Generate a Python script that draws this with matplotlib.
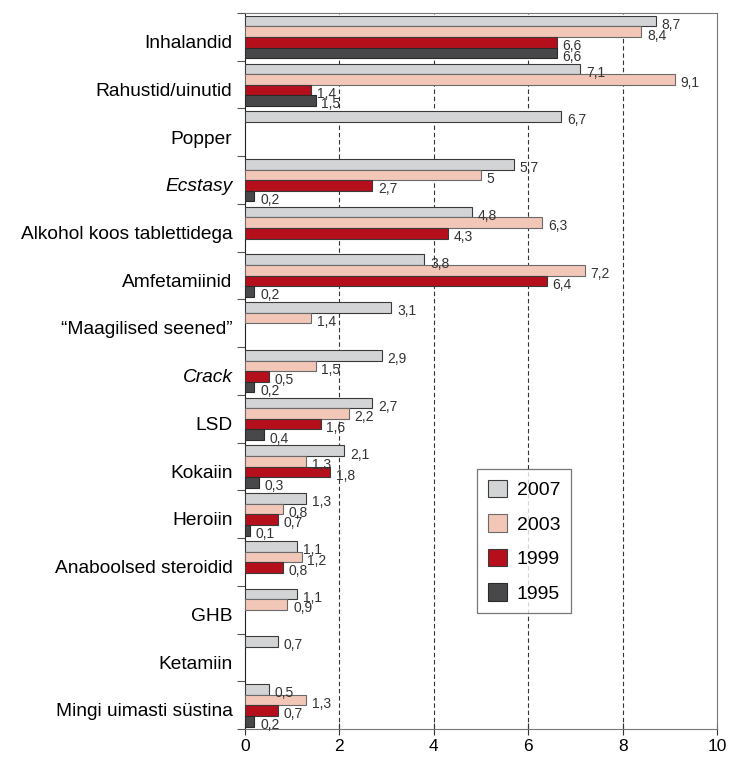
import numpy as np
import matplotlib.pyplot as plt

plt.rcParams['font.family'] = ['Liberation Sans', 'DejaVu Sans']

categories = ["Inhalandid", "Rahustid/uinutid", "Popper", "Ecstasy",
              "Alkohol koos tablettidega", "Amfetamiinid", "\u201cMaagilised seened\u201d",
              "Crack", "LSD", "Kokaiin", "Heroiin", "Anaboolsed steroidid",
              "GHB", "Ketamiin", "Mingi uimasti süstina"]
italic_cats = {"Ecstasy", "Crack"}

years = ["2007", "2003", "1999", "1995"]
v2007 = [8.7, 7.1, 6.7, 5.7, 4.8, 3.8, 3.1, 2.9, 2.7, 2.1, 1.3, 1.1, 1.1, 0.7, 0.5]
v2003 = [8.4, 9.1, None, 5.0, 6.3, 7.2, 1.4, 1.5, 2.2, 1.3, 0.8, 1.2, 0.9, None, 1.3]
v1999 = [6.6, 1.4, None, 2.7, 4.3, 6.4, None, 0.5, 1.6, 1.8, 0.7, 0.8, None, None, 0.7]
v1995 = [6.6, 1.5, None, 0.2, None, 0.2, None, 0.2, 0.4, 0.3, 0.1, None, None, None, 0.2]
series = [v2007, v2003, v1999, v1995]

colors = ["#d3d4d6", "#f2c7b8", "#b50f1c", "#48484a"]
edges = ["#3a3a3a", "#6a6a6a", "#3a3a3a", "#2a2a2a"]

fig = plt.figure(figsize=(7.3, 7.6), dpi=100)
ax = fig.add_axes([0.3356, 0.0408, 0.6466, 0.9422])

h = 0.222
for k, vals in enumerate(series):
    for i, v in enumerate(vals):
        if v is None:
            continue
        y = i + 0.06 + h * (k + 0.5)
        ax.barh(y, v, height=h, color=colors[k], edgecolor=edges[k], linewidth=0.8,
                label=years[k] if i == 0 else None, zorder=3)
        txt = f"{v:g}".replace(".", ",")
        ax.text(v + 0.12, y + 0.08, txt, fontsize=10, color="#333333",
                va="center", ha="left", zorder=4)

ax.set_xlim(0, 10)
ax.set_ylim(15, 0)
ax.set_xticks([0, 2, 4, 6, 8, 10])
ax.set_xticklabels(["0", "2", "4", "6", "8", "10"], fontsize=12.5)
ax.tick_params(axis="x", direction="inout", length=8, color="#333333", pad=3)

ax.set_yticks(np.arange(16))
ax.set_yticklabels([])
ax.tick_params(axis="y", which="major", direction="out", length=6, color="#555555")
ax.set_yticks(np.arange(15) + 0.6, minor=True)
ax.set_yticklabels(categories, minor=True, fontsize=13.8)
ax.tick_params(axis="y", which="minor", length=0, pad=9)
for lbl in ax.get_yticklabels(minor=True):
    if lbl.get_text() in italic_cats:
        lbl.set_fontstyle("italic")

for x in [2, 4, 6, 8]:
    ax.axvline(x, color="#333333", linestyle=(0, (4, 2.5)), linewidth=0.8, zorder=1)

for side in ["top", "right", "bottom"]:
    ax.spines[side].set_color("#777777")
ax.spines["left"].set_color("#222222")

leg = ax.legend(loc="upper left", bbox_to_anchor=(0.4915, 0.363), borderaxespad=0,
                fontsize=14, frameon=True, fancybox=False, edgecolor="#555555",
                handlelength=1.0, handleheight=1.0, labelspacing=0.78,
                borderpad=0.55, handletextpad=0.5)
leg.get_frame().set_linewidth(0.9)

fig.savefig("out.png", dpi=100)
